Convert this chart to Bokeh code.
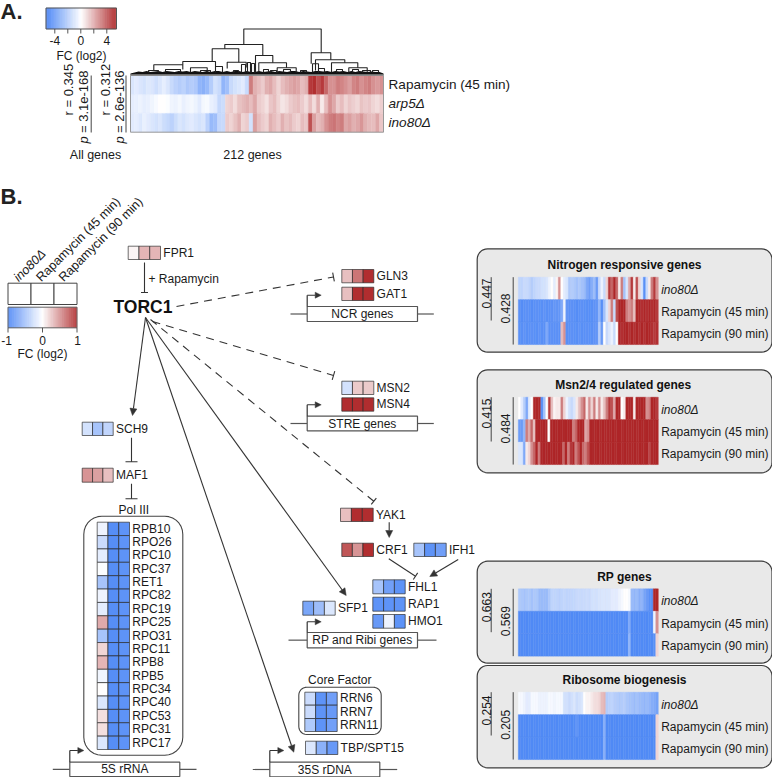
import numpy as np
from bokeh.core.properties import value
from bokeh.embed import file_html
from bokeh.models import Arrow, ColumnDataSource, LinearColorMapper, NormalHead, Range1d
from bokeh.plotting import figure
from bokeh.resources import INLINE
from bokeh.transform import transform

# ---------- data ----------
A_ROW_LABELS = ["Rapamycin (45 min)", "arp5Δ", "ino80Δ"]
A_RAPA45 = [-1,-.8,-1,-1.2,-.9,-1,-1.3,-1,-.7,-1,-1.5,-1.8,-2,-1.8,-2.2,-2,-2.2,-3,-3.2,-2.8,-2,-1.2,-1.5,-3,-2.6,-1.5,-1.2,-1,-.8,-1.5,
            3,1.8,1.5,1.2,1.8,2,1.5,1,1.5,1.8,2,2.2,2,1.5,1.8,4.5,4.8,4,4.5,3.5,2.5,2.5,3,2.8,2.5,2.2,2.8,3,2.5,2.8,3,2.5,2.3,2.5]
A_ARP5 = [-.7,-.6,-.5,-.7,-.6,-.4,-.2,0,0,-.1,-.4,-.5,-.3,-.6,-.4,-.3,-.5,-.8,-.3,-.2,-.6,-.8,-1.6,-1.4,
          1,1.2,.8,1.4,1.6,1.8,1.5,2,1.2,1,.7,1.3,1.5,1,.6,.8,1.2,1.4,1.5,1.2,.8,
          1.5,.8,1.8,.5,1.5,2.5,2,1.2,1.5,1,1.3,1.1,.9,1.4,1.2,1.3,1,.8,1.1]
A_INO80 = [-.8,-.7,-.9,-.6,-.8,-1,-1.2,-1,-1.4,-1.6,-1.8,-1.4,-1,-1.2,-.9,-.8,-1,-1.2,-1,-1.8,-2.8,-2.6,-1.6,-1.5,
           1.2,1,1.4,1.8,1,1.2,-1.2,2.2,1.5,1.2,1,1.8,1.5,1.2,1.8,1.4,1.6,1.2,1,1.5,1.3,
           4,2.2,1.5,1.8,2.5,3,3.2,2.8,3,2,2.2,1.8,2,2.4,1.8,1.6,1.5,2,1.3]
A_STATS = [("r = 0.345", "= 3.1e-168"), ("r = 0.312", "= 2.6e-136")]
A_LEGEND_TICKS = [-4, -2, 0, 2, 4]
A_LEGEND_LABELS = ["-4", "", "0", "", "4"]

DENDRO_LEFT  = [243.3,224.3,211.7,182.3,153.3,226.7,255,258.3,276.7,310.7,312,315,331,348.3,148,165,190,200,215,233,241,247,251,263,270,283,300,318,336,352,362,372]
DENDRO_RIGHT = [320.7,262.3,238.3,215,182.3,245.7,272.3,286,295.7,330.3,318,344.3,357.3,366.7,158,180,206.7,210,222,238,245,250,254,268,276,290,306,324,342,358,370,378]
DENDRO_TOP   = [28.5,44,48.3,61,64.3,61.7,55,62.3,67.3,52.3,63.3,59.3,62.3,67.3,70,69,67.3,70,66,70,64,62,63,69,70,69,70,68,69,69,70,70]
DENDRO_LEND  = [44,48.3,61,64.3,70,68,72,72,72,63.3,72,70,72,72,72,72,72,72,72,72,72,72,72,72,72,72,72,72,72,72,72,72]
DENDRO_REND  = [52.3,55,61.7,67,69,67,62.3,67.3,72,59.3,72,62.3,67.3,72,72,72,72,72,72,72,72,72,72,72,72,72,72,72,72,72,72,72]
DENDRO_LEAF  = [1.5,2.5,3.5,3,4,3,3.5,4,3,4,3.5,3,4,3.5,4,3,4,3.5,3,4,3,4,4,3,4,3,4,4,3,4,3,3,
                4,3,3.5,4,3,4,3.5,3,4,4,3,4,3.5,3,4,4,3.5,4,3,4,3.5,4,3,4,3,4,3.5,3,3.5,3,3,1.5]

N_INO = [-.35,-.35,-.3,-.3,-.35,-.4,-.35,-.3,-.3,-.25,-.25,-.2,-.1,0,-.15,.05,.5,0,-.15,-.2,-.45,-.4,-.45,-.5,-.45,-.5,-.55,-.7,-.8,
         -.65,-.55,-.8,-.3,-.1,-.3,.2,.9,.7,1,.7,.1,.6,-.5,-.2,.4,.9,.1,.8,.2,-.2,-.9,-.3,.1,.6,.9,.5]
N_R45 = [-.9,-.92,-.9,-.88,-.9,-.92,-.9,-.88,-.9,-.9,-.88,-.9,-.9,-.88,-.85,-.85,-.85,-.7,-.1,-.85,-.9,-.88,-.9,-.92,-.9,-.88,-.9,-.9,-.92,-.9,-.88,-.85,
         -.6,-.9,-.5,-.2,.2,.6,-.3,.8,1,1,1,.6,.5,.6,.3,1,1,.95,1,.95,1,.95,1,.9]
N_R90 = [-.9,-.9,-.88,-.9,-.9,-.88,-.9,-.9,-.88,-.9,-.9,-.7,-.9,-.88,-.9,-.88,-.9,.3,.5,-.9,-.9,-.88,-.9,-.9,-.88,-.9,-.9,-.88,-.9,-.9,-.88,-.85,
         -.4,-.8,0,-.3,-.2,-.1,-.3,0,1,.95,1,1,.95,1,.95,1,.95,1,.95,1,1,.95,.9,.95]
M_INO = [0,-.15,-.4,-.7,-.15,0,1,1,1,-.9,-.5,0,.9,.3,.05,.1,.1,.6,.2,-.1,-.25,-.3,-.2,.1,.3,.5,.7,.1,.5,.2,.6,.1,.5,.1,
         .3,.6,.9,.8,.4,1,1,0,.1,1,1,1,.1,1,1,1,1,.5,.6,1,1,.9]
M_R45 = [-.8,-.8,-.6,.6,.4,.7,.3,1,1,1,1,1,0,1,1,1,1,1,1,1,1,1,.6,.7,1,1,1,.4,.5,
         1,.98,1,1,.98,1,1,.98,1,1,.98,1,1,.98,1,1,.98,1,1,.98,1,1,.98,1,1,.98,1,1]
M_R90 = [-.2,-.2,-.7,.1,.2,.5,.7,1,.6,1,1,1,1,1,1,1,1,1,.7,1,.6,.9,1,.6,.8,1,.7,.6,.8,
         1,.98,1,1,.98,1,1,.98,1,1,.98,1,1,.98,1,1,.98,1,1,.98,1,1,.98,1,.85,.98,1,1]
RP_INO = [-.45,-.45,-.5,-.45,-.45,-.5,-.45,-.45,-.55,-.55,-.55,-.55,-.45,-.35,-.35,-.35,-.38,-.35,-.33,-.35,-.35,-.33,-.33,-.3,-.3,
          -.3,-.3,-.28,-.3,-.25,-.25,-.25,-.22,-.2,-.2,-.2,-.2,-.15,-.15,-.15,-.1,-.05,0,0,-.05,-.55,-.6,-.55,-.65,-.6,-.75,-.8,-.9,-.9,1,1]
RP_R45 = [-.95,-.94,-.95,-.95,-.94,-.95,-.95,-.94,-.95,-.95,-.94,-.95,-.95,-.94,-.95,-.95,-.94,-.95,-.95,-.94,-.95,-.95,
          -.94,-.95,-.95,-.94,-.95,-.95,-.94,-.95,-.95,-.94,-.95,-.95,-.94,-.95,-.95,-.94,-.95,-.95,-.94,-.95,-.95,-.94,
          -.7,-.95,-.94,-.95,-.95,-.94,-.95,-.95,-.94,-.95,-.1,.5]
RP_R90 = [-.95,-.94,-.95,-.95,-.94,-.95,-.95,-.94,-.95,-.95,-.94,-.95,-.95,-.94,-.95,-.95,-.94,-.95,-.95,-.94,-.95,-.95,
          -.94,-.95,-.95,-.94,-.95,-.95,-.94,-.95,-.95,-.94,-.95,-.95,-.94,-.95,-.95,-.94,-.95,-.95,-.94,-.95,-.95,-.94,
          -.6,-.95,-.94,-.95,-.95,-.94,-.95,-.95,-.94,-.95,-.9,.2]
RB_INO = [-.05,-.05,-.1,-.15,-.15,-.05,-.05,-.05,-.1,-.1,-.1,-.1,-.05,-.05,-.08,-.05,-.05,-.05,-.25,-.25,-.3,-.25,-.2,-.28,-.25,-.2,
          0,.05,.05,.1,.15,.15,.2,.3,.35,-.4,-.38,-.35,-.4,-.4,-.45,-.42,-.4,-.45,-.5,-.5,-.55,-.5,-.55,-.55,-.6,-.55,-.6,-.65,-.7,-.75]
RB_R45 = [-.95,-.94,-.95,-.95,-.94,-.95,-.95,-.94,-.95,-.95,-.94,-.95,-.95,-.94,-.95,-.95,-.94,-.95,-.95,-.94,-.95,-.95,
          -.94,-.85,-.95,-.94,-.95,-.95,-.94,-.95,-.95,-.94,-.95,-.95,-.65,-.95,-.94,-.95,-.95,-.94,-.95,-.95,-.94,-.95,
          -.95,-.94,-.95,-.95,-.94,-.95,-.95,-.94,-.95,-.95,-.94,.2]
RB_R90 = [-.95,-.94,-.95,-.95,-.94,-.95,-.95,-.94,-.95,-.95,-.94,-.95,-.95,-.94,-.95,-.95,-.94,-.95,-.95,-.94,-.95,-.95,
          -.94,-.95,-.95,-.94,-.95,-.95,-.94,-.95,-.95,-.94,-.95,-.95,-.65,-.95,-.94,-.95,-.95,-.94,-.95,-.95,-.94,-.95,
          -.95,-.94,-.95,-.95,-.94,-.95,-.95,-.94,-.95,-.95,-.94,.2]
PANEL_TITLES = ["Nitrogen responsive genes", "Msn2/4 regulated genes", "RP genes", "Ribosome biogenesis"]
PANEL_CORR = [("0.447", "0.428"), ("0.415", "0.484"), ("0.663", "0.569"), ("0.254", "0.205")]
PANEL_ROWS = ["ino80Δ", "Rapamycin (45 min)", "Rapamycin (90 min)"]

POL3_GENES = ["RPB10","RPO26","RPC10","RPC37","RET1","RPC82","RPC19","RPC25","RPO31","RPC11","RPB8","RPB5","RPC34","RPC40","RPC53","RPC31","RPC17"]
POL3_INO = [-.1,-.3,-.15,-.02,-.5,-.1,-.15,.4,-.5,.2,.35,-.08,0,-.2,.15,.15,-.2]
POL3_R45 = [-.95,-.95,-.95,-.95,-.95,-.95,-.95,-.95,-.95,-.95,-.95,-.95,-.95,-.95,-.95,-.95,-.95]
POL3_R90 = [-.9,-.9,-.9,-.9,-.9,-.9,-.9,-.9,-.9,-.9,-.9,-.9,-.9,-.9,-.9,-.9,-.9]

FPR1 = [.05,.35,.35]; GLN3 = [.3,.65,1]; GAT1 = [.3,1,1]; MSN2 = [-.25,.25,.25]; MSN4 = [1,1,1]
SCH9 = [-.25,-.5,-.35]; MAF1 = [.5,.45,.3]; YAK1 = [.3,1,1]; CRF1 = [.8,.5,1]; IFH1 = [-.5,-.9,-.8]
FHL1 = [-.5,-.8,-.9]; RAP1 = [-.9,-.9,-.9]; HMO1 = [-.85,-.1,-.9]; SFP1 = [-.75,-.55,-.2]
RRN6 = [-.3,-.9,-.8]; RRN7 = [-.3,-.9,-.85]; RRN11 = [-.45,-.9,-.8]; TBP = [-.2,-.65,-.85]

# ---------- drawing helpers ----------
blue = np.array([0x48, 0x84, 0xF6]); white = np.array([255, 255, 255]); red = np.array([0xAE, 0x26, 0x28])
pal = []
for t in np.linspace(-1, 1, 256):
    c = white + (blue - white) * (-t) if t < 0 else white + (red - white) * t
    pal.append("#%02x%02x%02x" % tuple(int(round(v)) for v in c))
map_a = LinearColorMapper(palette=pal, low=-5, high=5)
map_b = LinearColorMapper(palette=pal, low=-1, high=1)

p = figure(width=772, height=777, x_range=Range1d(0, 772), y_range=Range1d(777, 0), output_backend="svg",
           toolbar_location=None, x_axis_type=None, y_axis_type=None, min_border=0)
p.outline_line_color = None
p.grid.visible = False
FONT = "Liberation Sans"
DK = "#333333"

def txt(x, y, s, size=12, style="normal", align="left", base="middle", angle=0, color="#1a1a1a"):
    p.text(x=[x], y=[y], text=[s], text_font=value(FONT), text_font_size=value(f"{size}px"), text_font_style=value(style),
           text_align=value(align), text_baseline=value(base), angle=angle, text_color=color)

def line(xs, ys, color=DK, width=1.2, dash="solid"):
    p.line(xs, ys, line_color=color, line_width=width, line_dash=dash)

def rounded(x0, y0, x1, y1, r, fill, color=DK, width=1.2):
    a = np.linspace(0, np.pi / 2, 8)
    xs = np.r_[x0 + r - r * np.cos(a), x1 - r + r * np.sin(a), x1 - r + r * np.cos(a), x0 + r - r * np.sin(a)]
    ys = np.r_[y0 + r - r * np.sin(a), y0 + r - r * np.cos(a), y1 - r + r * np.sin(a), y1 - r + r * np.cos(a)]
    p.patch(xs, ys, fill_color=fill, line_color=color, line_width=width)

def strip(x0, x1, y0, y1, vals, mapper, alpha=1.0):
    e = np.linspace(x0, x1, len(vals) + 1)
    src = ColumnDataSource(dict(left=e[:-1], right=e[1:], top=[y0] * len(vals), bottom=[y1] * len(vals), v=vals))
    p.quad(left="left", right="right", top="top", bottom="bottom", source=src, fill_color=transform("v", mapper),
           line_color=transform("v", mapper), line_width=0.4, fill_alpha=alpha, line_alpha=alpha)

def gene(x0, x1, y0, y1, vals, name=None):
    e = np.linspace(x0, x1, len(vals) + 1)
    src = ColumnDataSource(dict(left=e[:-1], right=e[1:], top=[y0] * len(vals), bottom=[y1] * len(vals), v=vals))
    p.quad(left="left", right="right", top="top", bottom="bottom", source=src, fill_color=transform("v", map_b),
           fill_alpha=0.97, line_color="#2a2a2a", line_alpha=0.75, line_width=0.9)
    if name:
        txt(x1 + 2.8, (y0 + y1) / 2 - 0.3, name, size=12)

def arrow(x0, y0, x1, y1, size=7):
    p.add_layout(Arrow(end=NormalHead(size=size, fill_color=DK, line_color=DK, line_width=0.5), x_start=x0, y_start=y0, x_end=x1, y_end=y1,
                       line_color=DK, line_width=1.1))

def inhibit(x0, y0, x1, y1, half=4, dash="solid", width=1.1):
    line([x0, x1], [y0, y1], width=width, dash=dash)
    d = np.array([x1 - x0, y1 - y0], float); d /= np.hypot(*d)
    n = np.array([-d[1], d[0]]) * half
    line([x1 - n[0], x1 + n[0]], [y1 - n[1], y1 + n[1]], width=width)

def promoter(x0, x1, y0, y1, lx0, lx1, label, arrow_y):
    ym = (y0 + y1) / 2
    line([lx0, x0], [ym, ym], color="#555555"); line([x1, lx1], [ym, ym], color="#555555")
    p.quad(left=[x0], right=[x1], top=[y0], bottom=[y1], fill_color="white", line_color="#555555", line_width=1.2)
    txt((x0 + x1) / 2, ym, label, size=12, align="center")
    line([x0, x0], [y0, arrow_y], color="#333333")
    arrow(x0, arrow_y, x0 + 14, arrow_y, size=6)

# ---------- panel A ----------
txt(0, 10.5, "A.", size=22, style="bold", color="#222222")
txt(0, 196, "B.", size=22, style="bold", color="#222222")
legA = np.linspace(-5.4, 5.4, 110)
strip(45.5, 116, 7.5, 28.5, legA, map_a, alpha=0.72)
p.quad(left=[45.5], right=[116], top=[7.5], bottom=[28.5], fill_color=None, line_color="#555555", line_width=1)
for t, lab in zip(A_LEGEND_TICKS, A_LEGEND_LABELS):
    xt = 80.3 + 6.5 * t
    line([xt, xt], [28.5, 33], color="#444444", width=0.9)
    if lab:
        txt(xt, 40, lab, size=12, align="center")
txt(81, 55.5, "FC (log2)", align="center")

heat_rows = [A_RAPA45, A_ARP5, A_INO80]
for i, row in enumerate(heat_rows):
    strip(130, 383, 75.5 + i * 18.7, 75.5 + (i + 1) * 18.7, row, map_a)
p.quad(left=[130], right=[383], top=[75], bottom=[131.7], fill_color=None, line_color="#999999", line_width=1)
xs_leaf = np.linspace(130, 383, len(DENDRO_LEAF))
p.varea(x=xs_leaf, y1=np.full(len(DENDRO_LEAF), 74.5), y2=74.5 - np.array(DENDRO_LEAF), fill_color="#111111")
line([130, 383], [74.6, 74.6], color="#8c8c8c", width=1.6)
for l, r, t, a, b in zip(DENDRO_LEFT, DENDRO_RIGHT, DENDRO_TOP, DENDRO_LEND, DENDRO_REND):
    line([l, l, r, r], [a, t, t, b], color="#222222", width=1.1)
for lab, yy, st in zip(A_ROW_LABELS, [84, 103, 122], ["normal", "italic", "italic"]):
    txt(388, yy, lab, size=13.6, style=st)

for (rtxt, ptxt), xr, xp, xl in zip(A_STATS, [68, 105], [83, 119.3], [90.7, 125.5]):
    txt(xr, 115, rtxt, size=13, angle=np.pi / 2, align="left")
    txt(xp, 143, "p", size=13, style="italic", angle=np.pi / 2, align="left")
    txt(xp, 132.5, ptxt, size=13, angle=np.pi / 2, align="left")
    line([xl, xl], [75, 132], color="#444444", width=1)
txt(95, 154, "All genes", size=12.5, align="center")
txt(252, 154, "212 genes", size=12.5, align="center")

# ---------- legend B ----------
for lab, x0, st in zip(PANEL_ROWS, [15.5, 38, 60.5], ["italic", "normal", "normal"]):
    txt(x0, 279, lab, size=12.6, style=st, angle=np.pi / 4)
p.quad(left=[7.5, 30.5, 53.5], right=[30.5, 53.5, 76.5], top=[282.7] * 3, bottom=[304] * 3, fill_color="white", line_color="#444444", line_width=1)
strip(7.5, 76.5, 306.7, 327.3, np.linspace(-1, 1, 100), map_b, alpha=0.72)
p.quad(left=[7.5], right=[76.5], top=[306.7], bottom=[327.3], fill_color=None, line_color="#666666", line_width=1)
for t, lab in zip([-1, 0, 1], ["-1", "0", "1"]):
    xt = 42 + 34.5 * t
    line([xt, xt], [327.3, 332], color="#444444", width=0.9)
    txt(xt + (-1.5 if t < 0 else (0 if t == 0 else 0.5)), 339.5, lab, align="center")
txt(42, 353, "FC (log2)", align="center")

# ---------- TORC1 network ----------
gene(127.7, 160, 245.7, 259, FPR1, "FPR1")
inhibit(144, 262, 144, 292, half=3.5)
txt(148, 278, "+ Rapamycin")
txt(113, 306.5, "TORC1", size=17.5, style="bold", color="#111111")

inhibit(176, 306, 333, 276.5, half=4.5, dash="8 6")
inhibit(152, 321, 333, 375, half=4.5, dash="8 6")
inhibit(150, 319, 373.3, 500.7, half=4, dash="8 6")
arrow(145, 317, 345.7, 595)
arrow(145, 317, 293.3, 751.7)
arrow(145, 317, 132, 415)

gene(341.3, 373.3, 269, 282.3, GLN3, "GLN3")
gene(341.3, 373.3, 286.7, 300, GAT1, "GAT1")
promoter(306.7, 417, 306, 321, 290, 433.3, "NCR genes", 294.7)
gene(341.3, 373.3, 380.7, 394, MSN2, "MSN2")
gene(341.3, 373.3, 397.3, 410.7, MSN4, "MSN4")
promoter(306.7, 417, 415.7, 430.3, 290, 433.3, "STRE genes", 404.3)

gene(81.7, 112.7, 421.7, 435, SCH9, "SCH9")
inhibit(131, 437.3, 131, 461.3, half=6)
gene(81.7, 112.7, 467.7, 481.7, MAF1, "MAF1")
inhibit(131, 483.3, 131, 498.3, half=6)
txt(133.3, 509.3, "Pol III", align="center")
rounded(83.3, 515.7, 182.3, 754.7, 18, "white", color="#444444", width=1.1)
edges = np.linspace(521.7, 749, len(POL3_GENES) + 1)
for g, a, b, c, y0, y1 in zip(POL3_GENES, POL3_INO, POL3_R45, POL3_R90, edges[:-1], edges[1:]):
    gene(96.7, 129, y0, y1, [a, b, c], g)
promoter(69.3, 179.3, 761.7, 776, 52.3, 196, "5S rRNA", 750)

gene(340, 372.7, 507.7, 521, YAK1, "YAK1")
arrow(388.7, 521.7, 388.7, 537)
gene(341.3, 373, 542.7, 556, CRF1, "CRF1")
gene(413.3, 445.7, 542.7, 556, IFH1, "IFH1")
inhibit(388.3, 558.3, 415, 575.7, half=4)
arrow(457.7, 559, 429.3, 576)
gene(372.3, 404.7, 579.3, 593.3, FHL1, "FHL1")
gene(372.3, 404.7, 596.7, 610.7, RAP1, "RAP1")
gene(372.3, 404.7, 614, 627.7, HMO1, "HMO1")
gene(302.3, 334.7, 600.7, 614.7, SFP1, "SFP1")
promoter(306.7, 417, 632, 647.3, 288, 436, "RP and Ribi genes", 621.3)

txt(339.3, 679, "Core Factor", align="center")
rounded(298.3, 686.7, 380.7, 734, 8, "white", color="#444444", width=1.1)
gene(304.3, 336.7, 691.7, 704.7, RRN6, "RRN6")
gene(304.3, 336.7, 704.7, 718, RRN7, "RRN7")
gene(304.3, 336.7, 718, 731, RRN11, "RRN11")
gene(305, 337.3, 740.7, 754, TBP, "TBP/SPT15")
promoter(269.3, 379.3, 761.7, 776.3, 252.3, 396.7, "35S rDNA", 750)

# ---------- right panels ----------
panels = [
    (248.3, 351.7, 264, 276.7, [N_INO, N_R45, N_R90], 320, 293, 308, 624),
    (369.3, 472.3, 384.3, 396.7, [M_INO, M_R45, M_R90], 441, 413, 428, 622.7),
    (560.7, 662.7, 576, 588.3, [RP_INO, RP_R45, RP_R90], 631.7, 606.7, 620.7, 624),
    (665, 767.3, 679.3, 691.7, [RB_INO, RB_R45, RB_R90], 735, 710, 724.3, 624),
]
for (top, bot, ty, hy, rows, lend, c1, c2, tx), title, (k1, k2) in zip(panels, PANEL_TITLES, PANEL_CORR):
    rounded(476.7, top, 771.5, bot, 10.5, "#e9e9e9", color="#3c3c3c", width=1.2)
    txt(tx, ty, title, style="bold", align="center", color="#111111")
    h = 22.45
    for i, (row, lab) in enumerate(zip(rows, PANEL_ROWS)):
        strip(517.8, 657.8, hy + i * h, hy + (i + 1) * h, row, map_b)
        txt(660.7, hy + (i + 0.55) * h, lab, style="italic" if i == 0 else "normal")
    line([490.7, 490.7], [hy, lend], color="#444444", width=1)
    line([512.7, 512.7], [hy, hy + 3 * h], color="#444444", width=1)
    txt(485.7, c1, k1, angle=np.pi / 2, align="center")
    txt(505, c2, k2, angle=np.pi / 2, align="center")

open("out.html", "w").write(file_html(p, INLINE))
